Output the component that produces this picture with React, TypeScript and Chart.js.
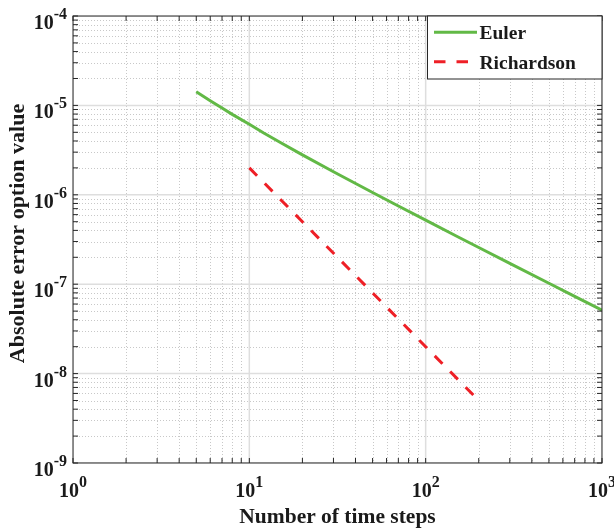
import React, { useEffect, useRef } from "react";
import { Chart, registerables } from "chart.js";

Chart.register(...registerables);

// ---- data ----
const seriesNames = ["Euler", "Richardson"];
const eulerSteps = [5, 6, 7, 8, 10, 12, 15, 20, 30, 50, 70, 100, 150, 200, 300, 500, 700, 1000];
const eulerError = [
  1.42e-5, 1.13e-5, 9.33e-6, 7.94e-6, 6.15e-6, 4.95e-6, 3.85e-6, 2.8e-6, 1.81e-6, 1.06e-6,
  7.49e-7, 5.2e-7, 3.44e-7, 2.575e-7, 1.71e-7, 1.024e-7, 7.3e-8, 5.11e-8,
];
const richardsonSteps = [10, 20, 50, 100, 200];
const richardsonError = [2.0e-6, 5.0e-7, 8.0e-8, 2.0e-8, 5.0e-9];

const xTickValues = [1, 10, 100, 1000];
const xTickExponents = ["0", "1", "2", "3"];
const yTickValues = [1e-9, 1e-8, 1e-7, 1e-6, 1e-5, 1e-4];
const yTickExponents = ["-9", "-8", "-7", "-6", "-5", "-4"];

const xTitle = "Number of time steps";
const yTitle = "Absolute error option value";

// ---- styles ----
const eulerColor = "#62b946";
const richardsonColor = "#ee1f26";
const axisColor = "#262626";
const textColor = "#1a1a1a";
const majorGridColor = "#dedede";
const minorGridColor = "#c8c8c8";
const FONT = '"Liberation Serif", "Times New Roman", Times, serif';

function minorValues(decades: number[]): number[] {
  const out: number[] = [];
  for (let i = 0; i < decades.length - 1; i++) {
    for (let k = 2; k <= 9; k++) out.push(decades[i] * k);
  }
  return out;
}

const matlabPlugin = {
  id: "matlabAxes",
  beforeDatasetsDraw(chart: any) {
    const { ctx, chartArea: a, scales } = chart;
    const xs = scales.x;
    const ys = scales.y;
    ctx.save();
    ctx.beginPath();
    ctx.rect(a.left, a.top, a.right - a.left, a.bottom - a.top);
    ctx.clip();
    // minor dotted grid
    ctx.strokeStyle = minorGridColor;
    ctx.lineWidth = 1;
    ctx.setLineDash([1, 2]);
    for (const v of minorValues(xTickValues)) {
      const px = Math.round(xs.getPixelForValue(v)) + 0.5;
      ctx.beginPath();
      ctx.moveTo(px, a.top);
      ctx.lineTo(px, a.bottom);
      ctx.stroke();
    }
    for (const v of minorValues(yTickValues)) {
      const py = Math.round(ys.getPixelForValue(v)) + 0.5;
      ctx.beginPath();
      ctx.moveTo(a.left, py);
      ctx.lineTo(a.right, py);
      ctx.stroke();
    }
    // major solid grid
    ctx.setLineDash([]);
    ctx.strokeStyle = majorGridColor;
    ctx.lineWidth = 1.5;
    for (const v of xTickValues) {
      const px = xs.getPixelForValue(v);
      ctx.beginPath();
      ctx.moveTo(px, a.top);
      ctx.lineTo(px, a.bottom);
      ctx.stroke();
    }
    for (const v of yTickValues) {
      const py = ys.getPixelForValue(v);
      ctx.beginPath();
      ctx.moveTo(a.left, py);
      ctx.lineTo(a.right, py);
      ctx.stroke();
    }
    ctx.restore();
  },
  afterDatasetsDraw(chart: any) {
    const { ctx, chartArea: a, scales } = chart;
    const xs = scales.x;
    const ys = scales.y;
    ctx.save();
    // box
    ctx.strokeStyle = axisColor;
    ctx.lineWidth = 1;
    ctx.setLineDash([]);
    ctx.strokeRect(a.left, a.top, a.right - a.left, a.bottom - a.top);
    // ticks (inward, all four sides)
    const tl = 5;
    const allX = [...xTickValues, ...minorValues(xTickValues)];
    const allY = [...yTickValues, ...minorValues(yTickValues)];
    ctx.beginPath();
    for (const v of allX) {
      const px = xs.getPixelForValue(v);
      ctx.moveTo(px, a.bottom);
      ctx.lineTo(px, a.bottom - tl);
      ctx.moveTo(px, a.top);
      ctx.lineTo(px, a.top + tl);
    }
    for (const v of allY) {
      const py = ys.getPixelForValue(v);
      ctx.moveTo(a.left, py);
      ctx.lineTo(a.left + tl, py);
      ctx.moveTo(a.right, py);
      ctx.lineTo(a.right - tl, py);
    }
    ctx.stroke();

    // tick labels
    const baseFont = `bold 20px ${FONT}`;
    const expFont = `bold 16px ${FONT}`;
    ctx.fillStyle = textColor;
    ctx.textBaseline = "alphabetic";
    ctx.textAlign = "left";
    xTickValues.forEach((v, i) => {
      const px = xs.getPixelForValue(v);
      ctx.font = baseFont;
      const w1 = ctx.measureText("10").width;
      ctx.font = expFont;
      const w2 = ctx.measureText(xTickExponents[i]).width;
      const x0 = px - (w1 + w2) / 2;
      ctx.font = baseFont;
      ctx.fillText("10", x0, a.bottom + 34);
      ctx.font = expFont;
      ctx.fillText(xTickExponents[i], x0 + w1, a.bottom + 23.5);
    });
    yTickValues.forEach((v, i) => {
      const py = ys.getPixelForValue(v);
      ctx.font = baseFont;
      const w1 = ctx.measureText("10").width;
      ctx.font = expFont;
      const w2 = ctx.measureText(yTickExponents[i]).width;
      const x0 = a.left - 6 - (w1 + w2);
      ctx.font = baseFont;
      ctx.fillText("10", x0, py + 13);
      ctx.font = expFont;
      ctx.fillText(yTickExponents[i], x0 + w1, py + 3);
    });

    // axis titles
    ctx.font = `bold 21.5px ${FONT}`;
    ctx.textAlign = "center";
    ctx.fillText(xTitle, (a.left + a.right) / 2, 523);
    ctx.save();
    ctx.translate(23.5, (a.top + a.bottom) / 2 - 6);
    ctx.rotate(-Math.PI / 2);
    ctx.font = `bold 22px ${FONT}`;
    ctx.fillText(yTitle, 0, 0);
    ctx.restore();

    // legend
    const lx0 = 427;
    const ly0 = a.top;
    const lx1 = a.right;
    const ly1 = 79;
    ctx.fillStyle = "#ffffff";
    ctx.fillRect(lx0, ly0, lx1 - lx0, ly1 - ly0);
    ctx.strokeStyle = axisColor;
    ctx.lineWidth = 1;
    ctx.strokeRect(lx0 + 0.5, ly0, lx1 - lx0 - 0.5, ly1 - ly0);
    const colors = [eulerColor, richardsonColor];
    const dashes = [[], [11.5, 11]];
    const rowY = [32.3, 61.7];
    ctx.font = `bold 19.5px ${FONT}`;
    ctx.textAlign = "left";
    seriesNames.forEach((name, i) => {
      ctx.save();
      ctx.beginPath();
      ctx.rect(434, rowY[i] - 5, 43, 10);
      ctx.clip();
      ctx.strokeStyle = colors[i];
      ctx.lineWidth = 3;
      ctx.setLineDash(dashes[i]);
      ctx.beginPath();
      ctx.moveTo(434, rowY[i]);
      ctx.lineTo(477, rowY[i]);
      ctx.stroke();
      ctx.restore();
      ctx.fillStyle = textColor;
      ctx.fillText(name, 479.5, rowY[i] + 7);
    });
    ctx.restore();
  },
};

export default function App() {
  const ref = useRef<HTMLCanvasElement | null>(null);
  useEffect(() => {
    if (!ref.current) return;
    const chart = new Chart(ref.current, {
      type: "line",
      data: {
        datasets: [
          {
            label: seriesNames[0],
            data: eulerSteps.map((x, i) => ({ x, y: eulerError[i] })),
            borderColor: eulerColor,
            borderWidth: 3,
            pointRadius: 0,
            fill: false,
            tension: 0,
          },
          {
            label: seriesNames[1],
            data: richardsonSteps.map((x, i) => ({ x, y: richardsonError[i] })),
            borderColor: richardsonColor,
            borderWidth: 3,
            borderDash: [11, 11],
            pointRadius: 0,
            fill: false,
            tension: 0,
          },
        ],
      },
      options: {
        responsive: false,
        animation: false,
        events: [],
        layout: { padding: { left: 73, right: 12, top: 16, bottom: 67 } },
        scales: {
          x: { type: "logarithmic", min: 1, max: 1000, display: false },
          y: { type: "logarithmic", min: 1e-9, max: 1e-4, display: false },
        },
        plugins: { legend: { display: false }, tooltip: { enabled: false } },
      },
      plugins: [matlabPlugin],
    } as any);
    return () => chart.destroy();
  }, []);
  return (
    <div style={{ position: "absolute", left: 0, top: 0, width: 614, height: 530, background: "#fff" }}>
      <canvas ref={ref} width={614} height={530} />
    </div>
  );
}
